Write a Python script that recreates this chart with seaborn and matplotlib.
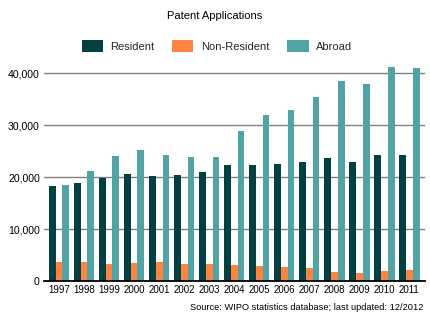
import matplotlib
matplotlib.use("Agg")
import matplotlib.pyplot as plt
import seaborn as sns
import pandas as pd
from matplotlib.patches import Patch

years = ["1997", "1998", "1999", "2000", "2001", "2002", "2003", "2004",
         "2005", "2006", "2007", "2008", "2009", "2010", "2011"]
resident = [18330, 18900, 19870, 20640, 20250, 20450, 21020, 22370,
            22370, 22560, 22950, 23720, 22950, 24290, 24290]
non_resident = [3710, 3710, 3330, 3520, 3710, 3330, 3330, 3140,
                2940, 2750, 2560, 1790, 1600, 1980, 2170]
abroad = [18520, 21210, 24100, 25250, 24290, 23900, 23900, 28900,
          31980, 32940, 35440, 38520, 37940, 41210, 41020]
series = ["Resident", "Non-Resident", "Abroad"]
colors = ["#034042", "#FF8442", "#52A3A3"]
yticks = [0, 10000, 20000, 30000, 40000]
title = "Patent Applications"
source = "Source: WIPO statistics database; last updated: 12/2012"

sns.set_theme(style="white")
plt.rcParams['font.family'] = ['Liberation Sans', 'DejaVu Sans']

rows = []
for name, vals in zip(series, [resident, non_resident, abroad]):
    for y, v in zip(years, vals):
        rows.append({"year": y, "series": name, "value": v})
df = pd.DataFrame(rows)

fig = plt.figure(figsize=(4.30, 3.21), dpi=100)
ax = fig.add_axes([0.1023, 0.1237, 0.8857, 0.68])

sns.barplot(data=df, x="year", y="value", hue="series", hue_order=series,
            order=years, palette=colors, width=0.82, gap=0, ax=ax,
            saturation=1, legend=False, errorbar=None)
for p in ax.patches:
    p.set_linewidth(0)

ax.set_xlim(-0.6, 14.62)
ax.set_ylim(0, 42000)
ax.set_yticks(yticks)
ax.set_yticklabels([f"{v:,}" for v in yticks])
ax.yaxis.grid(True, color="#808080", linewidth=1.0)
ax.set_axisbelow(True)
for s in ["top", "right", "left"]:
    ax.spines[s].set_visible(False)
ax.spines["bottom"].set_color("black")
ax.spines["bottom"].set_linewidth(1.3)
ax.tick_params(axis="both", length=0, colors="black")
ax.tick_params(axis="x", pad=3, labelsize=7)
ax.tick_params(axis="y", pad=3, labelsize=7.6)
ax.set_xlabel("")
ax.set_ylabel("")

fig.text(0.5, 1 - 16 / 321, title, ha="center", va="center", fontsize=8, color="black")
handles = [Patch(facecolor=c, edgecolor="none", label=n) for n, c in zip(series, colors)]
fig.legend(handles=handles, loc="center", bbox_to_anchor=(0.5 + 2 / 430, 1 - 46 / 321),
           ncol=3, frameon=False, fontsize=8, handlelength=1.9, handleheight=1.2,
           handletextpad=0.7, columnspacing=1.6)
fig.text(423 / 430, 1 - 308 / 321, source, ha="right", va="center", fontsize=6.7, color="black")

fig.savefig("out.png", dpi=100)
